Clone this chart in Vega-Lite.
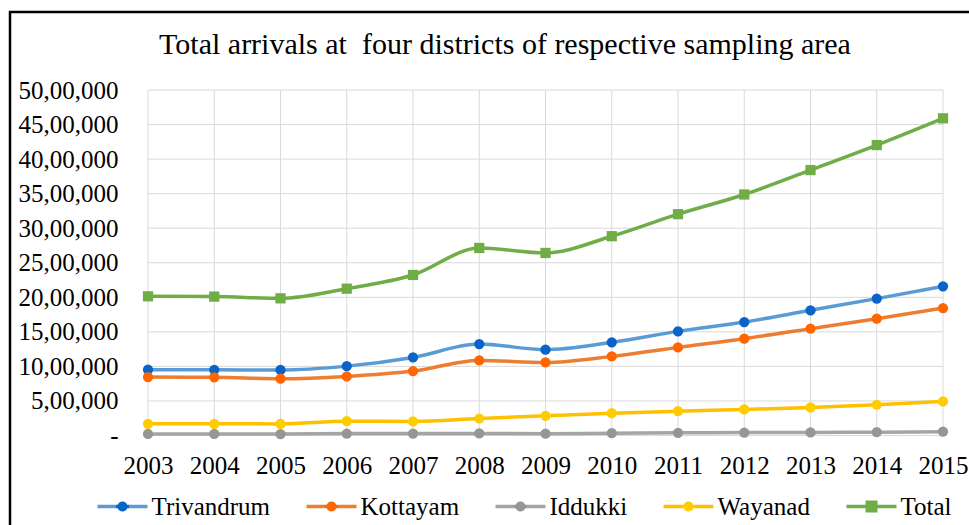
{
  "$schema": "https://vega.github.io/schema/vega-lite/v6.json",
  "width": 990,
  "height": 600,
  "padding": {"left": 10, "top": 12, "right": 0, "bottom": 0},
  "autosize": {"type": "none"},
  "background": "white",
  "config": {
    "view": {"stroke": "black", "strokeWidth": 2.5, "fill": "white"},
    "font": "Liberation Serif",
    "axis": {"labelFont": "Liberation Serif", "labelColor": "black", "labelFontSize": 25},
    "legend": {"labelFont": "Liberation Serif", "labelColor": "black", "labelFontSize": 25}
  },
  "title": {
    "text": "Total arrivals at\u00a0 four districts of respective sampling area",
    "font": "Liberation Serif",
    "fontSize": 30,
    "fontWeight": "normal",
    "color": "black",
    "anchor": "middle",
    "frame": "group",
    "baseline": "alphabetic",
    "offset": -72
  },
  "datasets": {
    "arrivals": [
      {"year": 2003, "series": "Trivandrum", "arrivals": 952000},
      {"year": 2004, "series": "Trivandrum", "arrivals": 950000},
      {"year": 2005, "series": "Trivandrum", "arrivals": 948000},
      {"year": 2006, "series": "Trivandrum", "arrivals": 1004000},
      {"year": 2007, "series": "Trivandrum", "arrivals": 1130000},
      {"year": 2008, "series": "Trivandrum", "arrivals": 1323000},
      {"year": 2009, "series": "Trivandrum", "arrivals": 1242000},
      {"year": 2010, "series": "Trivandrum", "arrivals": 1348000},
      {"year": 2011, "series": "Trivandrum", "arrivals": 1507000},
      {"year": 2012, "series": "Trivandrum", "arrivals": 1642000},
      {"year": 2013, "series": "Trivandrum", "arrivals": 1812000},
      {"year": 2014, "series": "Trivandrum", "arrivals": 1981000},
      {"year": 2015, "series": "Trivandrum", "arrivals": 2159000},
      {"year": 2003, "series": "Kottayam", "arrivals": 845000},
      {"year": 2004, "series": "Kottayam", "arrivals": 842000},
      {"year": 2005, "series": "Kottayam", "arrivals": 822000},
      {"year": 2006, "series": "Kottayam", "arrivals": 855000},
      {"year": 2007, "series": "Kottayam", "arrivals": 932000},
      {"year": 2008, "series": "Kottayam", "arrivals": 1087000},
      {"year": 2009, "series": "Kottayam", "arrivals": 1058000},
      {"year": 2010, "series": "Kottayam", "arrivals": 1145000},
      {"year": 2011, "series": "Kottayam", "arrivals": 1275000},
      {"year": 2012, "series": "Kottayam", "arrivals": 1401000},
      {"year": 2013, "series": "Kottayam", "arrivals": 1546000},
      {"year": 2014, "series": "Kottayam", "arrivals": 1691000},
      {"year": 2015, "series": "Kottayam", "arrivals": 1845000},
      {"year": 2003, "series": "Iddukki", "arrivals": 22000},
      {"year": 2004, "series": "Iddukki", "arrivals": 22000},
      {"year": 2005, "series": "Iddukki", "arrivals": 20000},
      {"year": 2006, "series": "Iddukki", "arrivals": 28000},
      {"year": 2007, "series": "Iddukki", "arrivals": 28000},
      {"year": 2008, "series": "Iddukki", "arrivals": 30000},
      {"year": 2009, "series": "Iddukki", "arrivals": 26000},
      {"year": 2010, "series": "Iddukki", "arrivals": 33000},
      {"year": 2011, "series": "Iddukki", "arrivals": 38000},
      {"year": 2012, "series": "Iddukki", "arrivals": 42000},
      {"year": 2013, "series": "Iddukki", "arrivals": 44000},
      {"year": 2014, "series": "Iddukki", "arrivals": 48000},
      {"year": 2015, "series": "Iddukki", "arrivals": 55000},
      {"year": 2003, "series": "Wayanad", "arrivals": 170000},
      {"year": 2004, "series": "Wayanad", "arrivals": 170000},
      {"year": 2005, "series": "Wayanad", "arrivals": 168000},
      {"year": 2006, "series": "Wayanad", "arrivals": 207000},
      {"year": 2007, "series": "Wayanad", "arrivals": 203000},
      {"year": 2008, "series": "Wayanad", "arrivals": 246000},
      {"year": 2009, "series": "Wayanad", "arrivals": 285000},
      {"year": 2010, "series": "Wayanad", "arrivals": 323000},
      {"year": 2011, "series": "Wayanad", "arrivals": 352000},
      {"year": 2012, "series": "Wayanad", "arrivals": 377000},
      {"year": 2013, "series": "Wayanad", "arrivals": 406000},
      {"year": 2014, "series": "Wayanad", "arrivals": 445000},
      {"year": 2015, "series": "Wayanad", "arrivals": 493000},
      {"year": 2003, "series": "Total", "arrivals": 2014000},
      {"year": 2004, "series": "Total", "arrivals": 2010000},
      {"year": 2005, "series": "Total", "arrivals": 1985000},
      {"year": 2006, "series": "Total", "arrivals": 2125000},
      {"year": 2007, "series": "Total", "arrivals": 2323000},
      {"year": 2008, "series": "Total", "arrivals": 2714000},
      {"year": 2009, "series": "Total", "arrivals": 2642000},
      {"year": 2010, "series": "Total", "arrivals": 2884000},
      {"year": 2011, "series": "Total", "arrivals": 3203000},
      {"year": 2012, "series": "Total", "arrivals": 3488000},
      {"year": 2013, "series": "Total", "arrivals": 3841000},
      {"year": 2014, "series": "Total", "arrivals": 4203000},
      {"year": 2015, "series": "Total", "arrivals": 4590000}
    ],
    "gridValues": [
      {"v": 0}, {"v": 500000}, {"v": 1000000}, {"v": 1500000}, {"v": 2000000}, {"v": 2500000},
      {"v": 3000000}, {"v": 3500000}, {"v": 4000000}, {"v": 4500000}, {"v": 5000000}
    ],
    "gridYears": [
      {"year": 2003}, {"year": 2004}, {"year": 2005}, {"year": 2006}, {"year": 2007}, {"year": 2008}, {"year": 2009},
      {"year": 2010}, {"year": 2011}, {"year": 2012}, {"year": 2013}, {"year": 2014}, {"year": 2015}
    ]
  },
  "layer": [
    {
      "data": {"name": "gridValues"},
      "mark": {"type": "rule", "color": "#D9D9D9", "strokeWidth": 1},
      "encoding": {
        "y": {"field": "v", "type": "quantitative", "scale": {"domain": [0, 5000000], "range": [423.5, 78], "nice": false, "zero": false}},
        "x": {"datum": 2003, "type": "quantitative", "scale": {"domain": [2003, 2015], "range": [138, 933], "nice": false, "zero": false}},
        "x2": {"datum": 2015}
      }
    },
    {
      "data": {"name": "gridYears"},
      "mark": {"type": "rule", "color": "#D9D9D9", "strokeWidth": 1},
      "encoding": {
        "x": {"field": "year", "type": "quantitative"},
        "y": {"datum": 0, "type": "quantitative"},
        "y2": {"datum": 5000000}
      }
    },
    {
      "data": {"name": "arrivals"},
      "mark": {"type": "line", "interpolate": "monotone", "strokeWidth": 3.5, "strokeJoin": "round", "strokeCap": "round"},
      "encoding": {
        "x": {
          "field": "year", "type": "quantitative",
          "axis": {
            "orient": "bottom", "offset": -176.5, "title": null,
            "values": [2003, 2004, 2005, 2006, 2007, 2008, 2009, 2010, 2011, 2012, 2013, 2014, 2015],
            "format": "d", "domain": false, "ticks": false, "grid": false,
            "labelFont": "Liberation Serif", "labelFontSize": 25, "labelColor": "black",
            "labelBaseline": "alphabetic", "labelPadding": 37.8, "labelFlush": false, "labelOverlap": false
          }
        },
        "y": {
          "field": "arrivals", "type": "quantitative",
          "axis": {
            "orient": "left", "offset": -138, "title": null,
            "values": [0, 500000, 1000000, 1500000, 2000000, 2500000, 3000000, 3500000, 4000000, 4500000, 5000000],
            "labelExpr": "datum.value == 0 ? '-\u00a0\u00a0' : (datum.value / 100000) + ',00,000'",
            "domain": false, "ticks": false, "grid": false,
            "labelFont": "Liberation Serif", "labelFontSize": 25, "labelColor": "black",
            "labelPadding": 30, "labelBaseline": "middle", "labelFlush": false, "labelOverlap": false
          }
        },
        "color": {
          "field": "series", "type": "nominal",
          "sort": ["Trivandrum", "Kottayam", "Iddukki", "Wayanad", "Total"],
          "scale": {"range": ["#5B9BD5", "#ED7D31", "#A5A5A5", "#FFC000", "#70AD47"]},
          "legend": {
            "orient": "none", "legendX": 87.5, "legendY": 469.5, "direction": "horizontal",
            "title": null, "padding": 0, "symbolSize": 2500, "symbolStrokeWidth": 0,
            "symbolType": "M-1,-0.07H1V0.07H-1Z", "labelOffset": 4, "columnPadding": 36,
            "labelFont": "Liberation Serif", "labelFontSize": 25, "labelColor": "black",
            "labelBaseline": "middle",
            "encode": {
              "symbols": {
                "update": {
                  "fill": {"signal": "{gradient: 'linear', x1: 0, y1: 0, x2: 1, y2: 0, stops: [{offset: 0, color: scale('color', datum.value)}, {offset: 0.37, color: scale('color', datum.value)}, {offset: 0.37, color: scale('fill', datum.value)}, {offset: 0.63, color: scale('fill', datum.value)}, {offset: 0.63, color: scale('color', datum.value)}, {offset: 1, color: scale('color', datum.value)}]}"},
                  "fillOpacity": {"value": 1},
                  "stroke": {"value": "transparent"},
                  "size": {"value": 2500},
                  "shape": {"signal": "datum.value === 'Total' ? 'M-1,-0.07H1V0.07H-1Z M-0.24,-0.24H0.24V0.24H-0.24Z' : 'M-1,-0.07H1V0.07H-1Z M-0.2,0A0.2,0.2,0,1,1,0.2,0A0.2,0.2,0,1,1,-0.2,0Z'"}
                }
              }
            }
          }
        }
      }
    },
    {
      "data": {"name": "arrivals"},
      "mark": {"type": "point", "filled": true, "opacity": 1, "strokeWidth": 0},
      "encoding": {
        "x": {"field": "year", "type": "quantitative"},
        "y": {"field": "arrivals", "type": "quantitative"},
        "fill": {
          "field": "series", "type": "nominal",
          "scale": {"domain": ["Trivandrum", "Kottayam", "Iddukki", "Wayanad", "Total"], "range": ["#0A63C6", "#FF6600", "#969696", "#FFCC00", "#70AD47"]},
          "legend": null
        },
        "shape": {
          "field": "series", "type": "nominal",
          "scale": {"domain": ["Trivandrum", "Kottayam", "Iddukki", "Wayanad", "Total"], "range": ["circle", "circle", "circle", "circle", "square"]},
          "legend": null
        },
        "size": {
          "field": "series", "type": "nominal",
          "scale": {"domain": ["Trivandrum", "Kottayam", "Iddukki", "Wayanad", "Total"], "range": [105, 105, 105, 105, 180]},
          "legend": null
        }
      }
    }
  ]
}
